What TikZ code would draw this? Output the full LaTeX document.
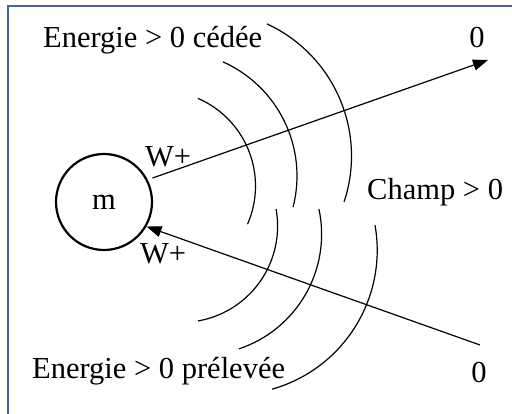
\documentclass[tikz,border=0pt]{standalone}
\usepackage{fontspec}
\setmainfont{Liberation Serif}
\usetikzlibrary{arrows.meta}
\definecolor{cadre}{RGB}{64,100,165}

\begin{document}
\begin{tikzpicture}[x=1pt, y=-1pt,
	txt/.style={font=\fontsize{30.5}{36}\selectfont, inner sep=0pt},
	onde/.style={line width=1.2pt},
	fleche/.style={line width=1.2pt, -{Triangle[length=15pt, width=11pt]}}]
\useasboundingbox (0,0) rectangle (512,414);

% Cadre
\draw[cadre, line width=2.5pt] (520,6) -- (8,6) -- (8,420);

% Masse
\node[circle, draw, line width=2.2pt, minimum size=96pt, txt] (m) at (104,202) {m};

% Ondes
	\foreach \cx/\cy/\r/\a/\b in {160/186/95.5/-66.6/23.6, 172/176/125/-65.9/14.4, 206/156/145.5/-65.2/18.4}
		\draw[onde] (\cx,\cy) ++(\a:\r) arc[start angle=\a, end angle=\b, radius=\r];

	\foreach \cx/\cy/\r/\a/\b in {181.4/226.2/96.2/-10.3/80.1, 200.7/234.2/120.9/-12/71.6, 232.8/250.2/144.4/-10/74.2}
		\draw[onde] (\cx,\cy) ++(\a:\r) arc[start angle=\a, end angle=\b, radius=\r];

% Textes
\node[txt, anchor=base west] (cedee) at (43,48) {Energie > 0 cédée};
\node[txt, anchor=base] (zhaut) at (477,48) {0};
\node[txt, anchor=base west] (champ) at (367,200) {Champ > 0};
\node[txt, anchor=base] (zbas) at (479,382) {0};
\node[txt, anchor=base west] (prelevee) at (32,379) {Energie > 0 prélevée};
\node[txt, anchor=base west] (wsort) at (145,167) {W+};
\node[txt, anchor=base west] (wentre) at (140,264) {W+};

% Fleches
\coordinate (fin) at (488,60);
\coordinate (depart) at (480,345);
\draw[fleche, shorten <=5pt] (m.27) -- (fin);
\draw[fleche] (depart) -- (m.-30);
\end{tikzpicture}
\end{document}
